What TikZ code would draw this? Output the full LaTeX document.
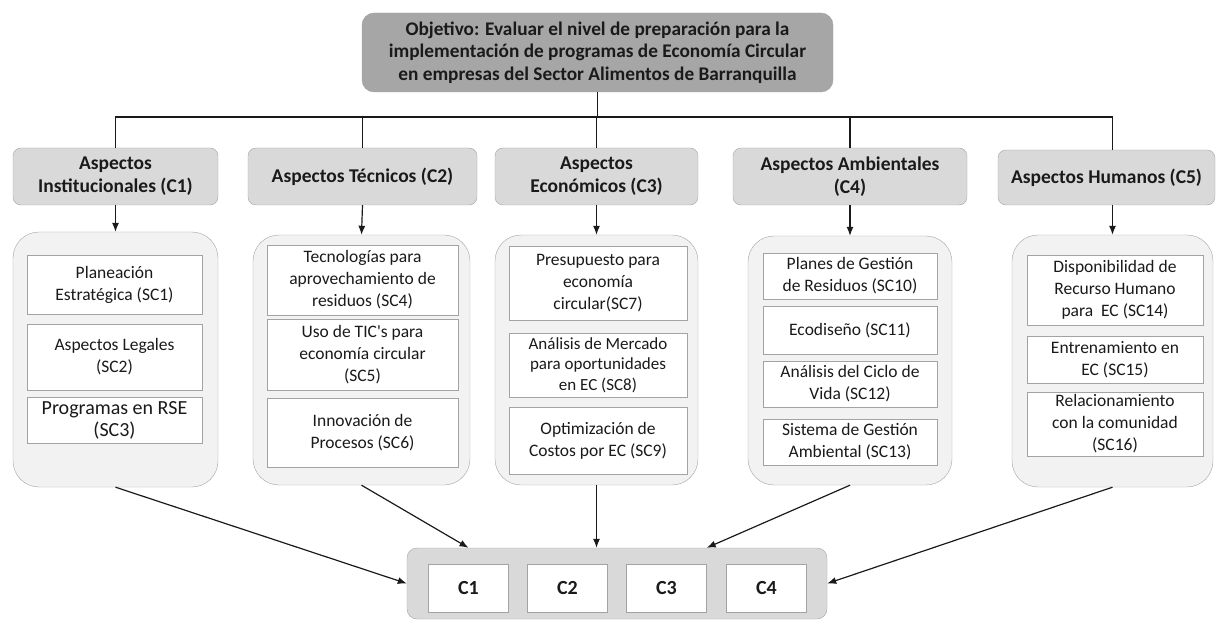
\documentclass[tikz,border=0pt]{standalone}
\usepackage{fontspec}
\setmainfont{Carlito}
\usepackage{xcolor}
\usepackage{tikz}
\usetikzlibrary{positioning,arrows.meta}

\definecolor{objgray}{HTML}{A6A6A6}
\definecolor{catgray}{HTML}{D9D9D9}
\definecolor{grpgray}{HTML}{F2F2F2}
\definecolor{edgegray}{HTML}{A3A3A3}
\definecolor{inkgray}{HTML}{1A1A1A}

\tikzset{
  objbox/.style={draw=edgegray, fill=objgray, rounded corners=12pt, align=center, inner sep=0pt, text=inkgray, font=\fontsize{19.3}{22.5}\selectfont\bfseries},
  catbox/.style={draw=edgegray, fill=catgray, rounded corners=8pt, align=center, inner sep=0pt, text=inkgray, font=\fontsize{19.5}{23}\selectfont\bfseries},
  grpbox/.style={draw=edgegray, fill=grpgray, rounded corners=26pt, inner sep=0pt},
  subbox/.style={draw=edgegray, fill=white, align=center, inner sep=0pt, text=inkgray, font=\fontsize{17.5}{22}\selectfont},
  resbox/.style={draw=edgegray, fill=catgray, rounded corners=10pt, inner sep=0pt},
  cbox/.style={draw=edgegray, fill=white, inner sep=0pt, minimum width=80pt, minimum height=48pt, text=inkgray, font=\fontsize{20}{24}\selectfont\bfseries},
  link/.style={inkgray, line width=1.4pt},
  flow/.style={inkgray, line width=1.2pt, -{Latex[length=9pt,width=7pt]}},
}

\begin{document}
\begin{tikzpicture}[x=1pt, y=-1pt]
\useasboundingbox (0,0) rectangle (1220,620);

\node[objbox, minimum width=471pt, minimum height=79pt] (obj) at (597.5,52.5) {Objetivo: Evaluar el nivel de preparación para la\\implementación de programas de Economía Circular\\en empresas del Sector Alimentos de Barranquilla};

\node[catbox, minimum width=205pt, minimum height=57pt] (cat1) at (115.5,176.5) {Aspectos\\Institucionales (C1)};
\node[catbox, minimum width=229pt, minimum height=57pt] (cat2) at (362.5,176.5) {Aspectos Técnicos (C2)};
\node[catbox, minimum width=203pt, minimum height=57pt] (cat3) at (596.5,176.5) {Aspectos\\Económicos (C3)};
\node[catbox, minimum width=234pt, minimum height=57pt] (cat4) at (850,176.5) {Aspectos Ambientales\\(C4)};
\node[catbox, minimum width=217pt, minimum height=55pt] (cat5) at (1106.5,177.5) {Aspectos Humanos (C5)};

\node[grpbox, minimum width=205pt, minimum height=255pt] (grp1) at (115.5,359.5) {};
\node[grpbox, minimum width=217pt, minimum height=250pt] (grp2) at (361.5,360) {};
\node[grpbox, minimum width=203pt, minimum height=250pt] (grp3) at (596.5,360) {};
\node[grpbox, minimum width=204pt, minimum height=249pt] (grp4) at (850,360.5) {};
\node[grpbox, minimum width=201pt, minimum height=252pt] (grp5) at (1112.5,361) {};

\node[subbox, minimum width=175pt, minimum height=59pt] (sc1) at (114.5,284.5) {Planeación\\Estratégica (SC1)};
\node[subbox, minimum width=175pt, minimum height=66pt] (sc2) at (114.5,357) {Aspectos Legales\\(SC2)};
\node[subbox, minimum width=175pt, minimum height=46pt, font=\fontsize{20}{22}\selectfont] (sc3) at (114.5,420) {Programas en RSE\\(SC3)};

\node[subbox, minimum width=191pt, minimum height=70pt] (sc4) at (362.5,280) {Tecnologías para\\aprovechamiento de\\residuos (SC4)};
\node[subbox, minimum width=191pt, minimum height=71pt] (sc5) at (362.5,354.5) {Uso de TIC\textquotesingle s para\\economía circular\\(SC5)};
\node[subbox, minimum width=191pt, minimum height=69pt] (sc6) at (362.5,432.5) {Innovación de\\Procesos (SC6)};

\node[subbox, minimum width=178pt, minimum height=74pt] (sc7) at (598,283) {Presupuesto para\\economía\\circular(SC7)};
\node[subbox, minimum width=178pt, minimum height=64pt, font=\fontsize{17}{20.5}\selectfont] (sc8) at (598,365) {Análisis de Mercado\\para oportunidades\\en EC (SC8)};
\node[subbox, minimum width=178pt, minimum height=67pt] (sc9) at (598,440.5) {Optimización de\\Costos por EC (SC9)};

\node[subbox, minimum width=174pt, minimum height=46pt] (sc10) at (850,276) {Planes de Gestión\\de Residuos (SC10)};
\node[subbox, minimum width=174pt, minimum height=48pt] (sc11) at (850,330) {Ecodiseño (SC11)};
\node[subbox, minimum width=174pt, minimum height=46pt] (sc12) at (850,384) {Análisis del Ciclo de\\Vida (SC12)};
\node[subbox, minimum width=174pt, minimum height=46pt] (sc13) at (850,442) {Sistema de Gestión\\Ambiental (SC13)};

\node[subbox, minimum width=176pt, minimum height=70pt] (sc14) at (1115,290) {Disponibilidad de\\Recurso Humano\\para \ EC (SC14)};
\node[subbox, minimum width=176pt, minimum height=47pt] (sc15) at (1115,359.5) {Entrenamiento en\\EC (SC15)};
\node[subbox, minimum width=176pt, minimum height=64pt] (sc16) at (1115,424) {Relacionamiento\\con la comunidad\\(SC16)};

\node[resbox, minimum width=420pt, minimum height=71pt] (res) at (617,583.5) {};
\node[cbox] (r1) at (468.5,588) {C1};
\node[cbox] (r2) at (567.5,588) {C2};
\node[cbox] (r3) at (666.5,588) {C3};
\node[cbox] (r4) at (766.5,588) {C4};

\coordinate (bus) at (597.5,117);
\draw[link] (obj.south) -- (bus);
\draw[link] (cat1.north) -- (cat1.north |- bus) -- (grp5.north |- bus) -- (grp5.north |- cat5.north);
\draw[link] (cat2.north) -- (cat2.north |- bus);
\draw[link] (cat3.north) -- (cat3.north |- bus);
\draw[link] (cat4.north) -- (cat4.north |- bus);

\draw[flow] (cat1.south) -- (grp1.north);
\draw[flow] (cat2.south) -- (grp2.north);
\draw[flow] (cat3.south) -- (grp3.north);
\draw[flow] (cat4.south) -- (grp4.north);
\draw[flow] (grp5.north |- cat5.south) -- (grp5.north);

\draw[flow] (grp1.south) -- (res.west);
\draw[flow] (grp2.south) -- (r1.north |- res.north);
\draw[flow] (grp3.south) -- (grp3.south |- res.north);
\draw[flow] (grp4.south) -- (r3.east |- res.north);
\draw[flow] (grp5.south) -- (res.east);
\end{tikzpicture}
\end{document}
